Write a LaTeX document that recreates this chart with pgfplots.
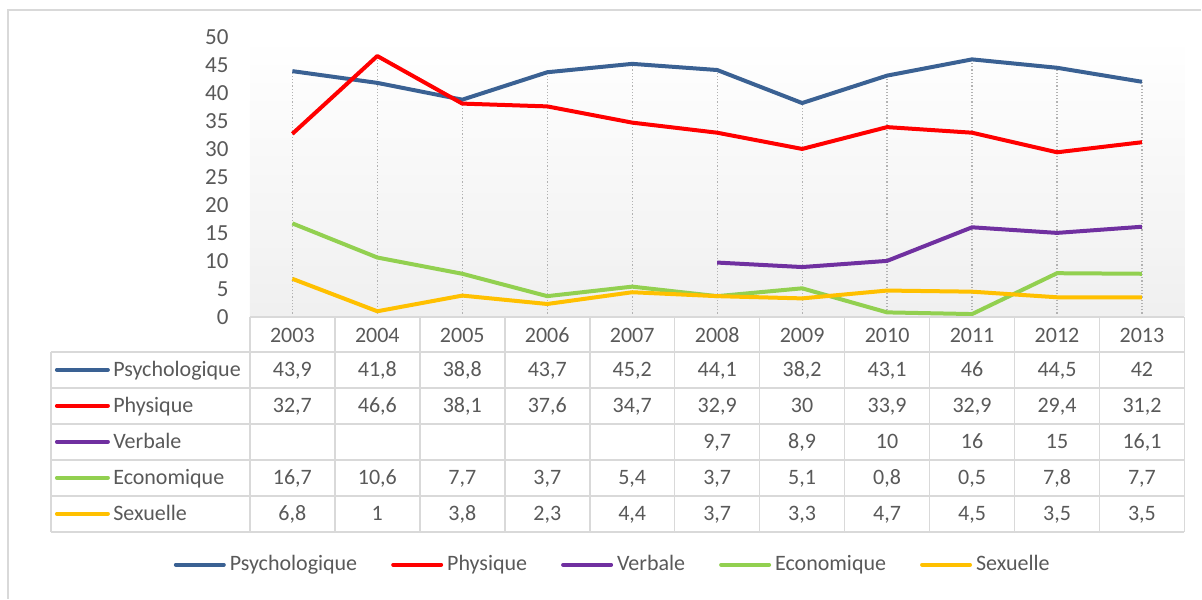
\documentclass[border=0pt]{standalone}
\usepackage{pgfplots}
\pgfplotsset{compat=1.18}
\usepackage{pgfplotstable}
\usepackage{fontspec}
\setmainfont{Carlito}

\definecolor{txt}{HTML}{595959}
\definecolor{gridc}{HTML}{D9D9D9}
\definecolor{cpsy}{HTML}{3A6193}
\definecolor{cphy}{HTML}{FF0000}
\definecolor{cverb}{HTML}{7030A0}
\definecolor{ceco}{HTML}{92D050}
\definecolor{csex}{HTML}{FFC000}

% top = highest value of the year (for the drop lines)
\pgfplotstableread{
year psy  phy  verb eco  sex  top
2003 43.9 32.7 nan  16.7 6.8  43.9
2004 41.8 46.6 nan  10.6 1    46.6
2005 38.8 38.1 nan  7.7  3.8  38.8
2006 43.7 37.6 nan  3.7  2.3  43.7
2007 45.2 34.7 nan  5.4  4.4  45.2
2008 44.1 32.9 9.7  3.7  3.7  44.1
2009 38.2 30   8.9  5.1  3.3  38.2
2010 43.1 33.9 10   0.8  4.7  43.1
2011 46   32.9 16   0.5  4.5  46
2012 44.5 29.4 15   7.8  3.5  44.5
2013 42   31.2 16.1 7.7  3.5  42
}\data

\tikzset{cell/.style={font=\fontsize{11}{13}\selectfont, text=txt, inner sep=0pt,
  text height=7.1pt, text depth=0pt}}

\begin{document}
\begin{tikzpicture}
\begin{axis}[
  scale only axis, x=42.5pt, y=2.8pt,
  xmin=2002.5, xmax=2013.5, ymin=0, ymax=50,
  clip=false,
  axis line style={draw=none}, major tick length=0pt,
  axis background/.style={shade, top color=white, bottom color=black!6},
  ytick={0,5,...,50},
  xtick={2003,2004,2005,2006,2007,2008,2009,2010,2011,2012,2013},
  xticklabels={2003,2004,2005,2006,2007,2008,2009,2010,2011,2012,2013},
  xticklabel style={cell, anchor=center, yshift=-9.25pt},
  yticklabel style={inner sep=0pt, anchor=east, xshift=-10.5pt,
    font=\fontsize{11.5}{13}\selectfont, text=txt},
  /pgf/number format/assume math mode=true,
  legend columns=5,
  legend image code/.code={\draw[#1, line cap=round] (0pt,0pt) -- (24pt,0pt);},
  legend style={at={(0.3893,-0.8857)}, anchor=center, draw=none, fill=none,
    font=\fontsize{11}{13}\selectfont, text=txt,
    /tikz/every even column/.append style={column sep=15pt}},
  nodes near coords style={cell, anchor=center, /pgf/number format/use comma},
]
% drop lines
\addplot[forget plot, ycomb, mark=none, densely dotted, color=black!30, line width=0.6pt]
  table[x=year, y=top]{\data};

\addplot[cpsy, line width=2pt, line join=round] table[x=year, y=psy]{\data};
\addlegendentry{Psychologique}
\addplot[cphy, line width=2pt, line join=round] table[x=year, y=phy]{\data};
\addlegendentry{Physique}
\addplot[cverb, line width=2pt, line join=round] table[x=year, y=verb]{\data};
\addlegendentry{Verbale}
\addplot[ceco, line width=2pt, line join=round] table[x=year, y=eco]{\data};
\addlegendentry{Economique}
\addplot[csex, line width=2pt, line join=round] table[x=year, y=sex]{\data};
\addlegendentry{Sexuelle}

% data table: grid
\draw[gridc, line width=0.8pt] (axis cs:2002.5,0) -- (axis cs:2013.5,0);
\pgfplotsinvokeforeach{-6.25,-12.68,-19.11,-25.54,-31.96,-38.39}{
  \draw[gridc, line width=0.8pt] (axis cs:2000.159,#1) -- (axis cs:2013.5,#1);}
\pgfplotsinvokeforeach{2002.5,2003.5,2004.5,2005.5,2006.5,2007.5,2008.5,2009.5,2010.5,2011.5,2012.5,2013.5}{
  \draw[gridc, line width=0.8pt] (axis cs:#1,0) -- (axis cs:#1,-38.39);}
\draw[gridc, line width=0.8pt] (axis cs:2000.159,-6.25) -- (axis cs:2000.159,-38.39);

% data table: row keys and names
\draw[cpsy, line width=2pt, line cap=round] (axis cs:2000.229,-9.464) -- (axis cs:2000.829,-9.464);
\node[cell, anchor=west] at (axis cs:2000.888,-9.464) {Psychologique};
\draw[cphy, line width=2pt, line cap=round] (axis cs:2000.229,-15.893) -- (axis cs:2000.829,-15.893);
\node[cell, anchor=west] at (axis cs:2000.888,-15.893) {Physique};
\draw[cverb, line width=2pt, line cap=round] (axis cs:2000.229,-22.32) -- (axis cs:2000.829,-22.32);
\node[cell, anchor=west] at (axis cs:2000.888,-22.32) {Verbale};
\draw[ceco, line width=2pt, line cap=round] (axis cs:2000.229,-28.75) -- (axis cs:2000.829,-28.75);
\node[cell, anchor=west] at (axis cs:2000.888,-28.75) {Economique};
\draw[csex, line width=2pt, line cap=round] (axis cs:2000.229,-35.18) -- (axis cs:2000.829,-35.18);
\node[cell, anchor=west] at (axis cs:2000.888,-35.18) {Sexuelle};

% data table: values
\addplot[forget plot, draw=none, mark=none, nodes near coords, point meta=explicit]
  table[x=year, y expr=-9.464, meta=psy]{\data};
\addplot[forget plot, draw=none, mark=none, nodes near coords, point meta=explicit]
  table[x=year, y expr=-15.893, meta=phy]{\data};
\addplot[forget plot, draw=none, mark=none, nodes near coords, point meta=explicit,
  restrict x to domain=2008:2013]
  table[x=year, y expr=-22.32, meta=verb]{\data};
\addplot[forget plot, draw=none, mark=none, nodes near coords, point meta=explicit]
  table[x=year, y expr=-28.75, meta=eco]{\data};
\addplot[forget plot, draw=none, mark=none, nodes near coords, point meta=explicit]
  table[x=year, y expr=-35.18, meta=sex]{\data};

% outer frame (cut at the right and bottom) and page extent
\draw[gridc, line width=0.8pt] (axis cs:1999.653,-50.357) -- (axis cs:1999.653,54.82) -- (axis cs:2013.697,54.82);
\path (axis cs:1999.559,56.607) rectangle (axis cs:2013.697,-50.357);
\end{axis}
\end{tikzpicture}
\end{document}
